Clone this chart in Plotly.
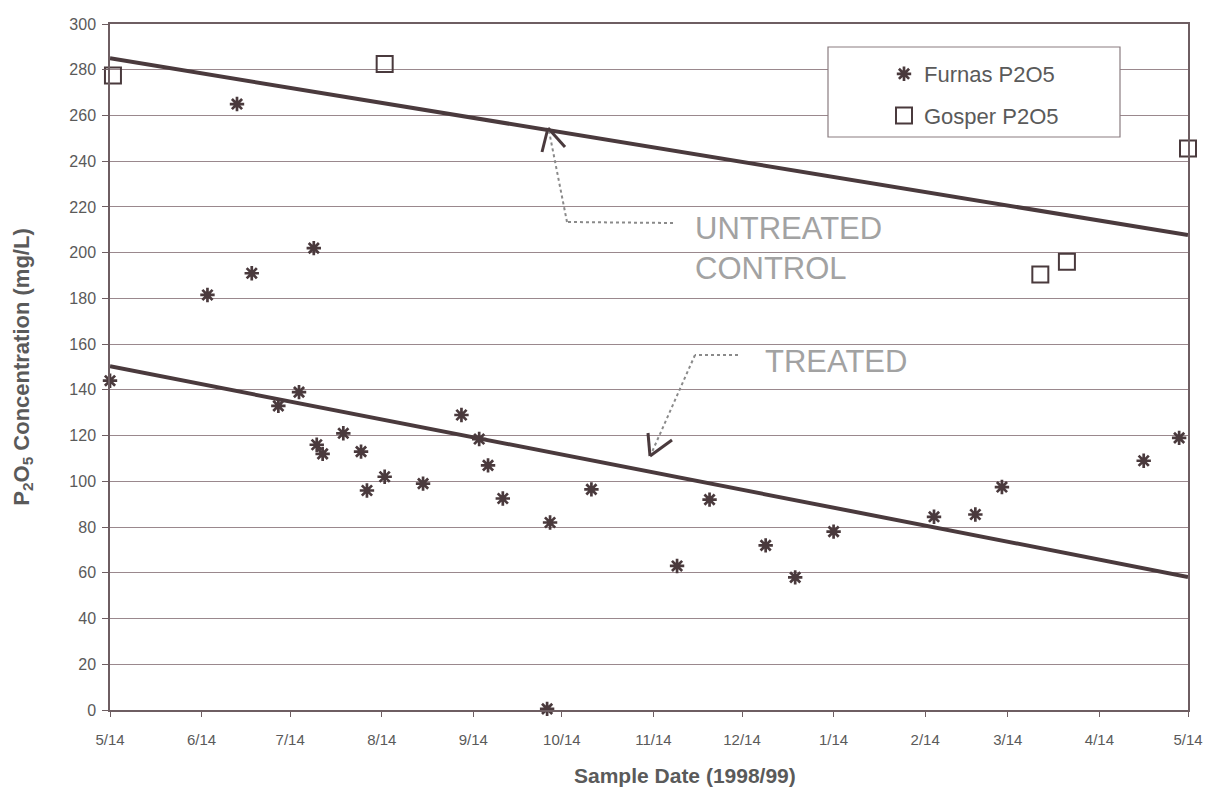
import plotly.graph_objects as go

# ---------------- data ----------------
furnas_dates = ["1998-05-14", "1998-06-16", "1998-06-26", "1998-07-01", "1998-07-10",
                "1998-07-17", "1998-07-22", "1998-07-23", "1998-07-25", "1998-08-01",
                "1998-08-07", "1998-08-09", "1998-08-15", "1998-08-28", "1998-09-10",
                "1998-09-16", "1998-09-19", "1998-09-24", "1998-10-09", "1998-10-10",
                "1998-10-24", "1998-11-22", "1998-12-03", "1998-12-22", "1999-01-01",
                "1999-01-14", "1999-02-17", "1999-03-03", "1999-03-12", "1999-04-29",
                "1999-05-11"]
furnas_p2o5 = [144, 181.5, 265, 191, 133,
               139, 202, 116, 112, 121,
               113, 96, 102, 99, 129,
               118.5, 107, 92.5, 0.5, 82,
               96.5, 63, 92, 72, 58,
               78, 84.5, 85.5, 97.5, 109,
               119]

gosper_dates = ["1998-05-15", "1998-08-15", "1999-03-25", "1999-04-03", "1999-05-14"]
gosper_p2o5 = [277.5, 282.5, 190.5, 196, 245.5]

trend_dates = ["1998-05-14", "1999-05-14"]
untreated_trend = [285, 207.7]
treated_trend = [150.3, 58.2]

tick_dates = ["1998-05-14", "1998-06-14", "1998-07-14", "1998-08-14", "1998-09-14",
              "1998-10-14", "1998-11-14", "1998-12-14", "1999-01-14", "1999-02-14",
              "1999-03-14", "1999-04-14", "1999-05-14"]
tick_labels = ["5/14", "6/14", "7/14", "8/14", "9/14", "10/14", "11/14", "12/14",
               "1/14", "2/14", "3/14", "4/14", "5/14"]

# ---------------- styling ----------------
FONT = "Liberation Sans, Arial, sans-serif"
DARK = "#4a3a3d"
GRID = "#9a888d"
AXIS = "#6e5e62"
TXT = "#5a5a5a"
GRAYTXT = "#a2a2a2"

# page offset from the browser's default 8px body margin
OFF = 8
W, H = 1211 - 2 * OFF, 788 - OFF
# plot area in page pixels
L, R, T, B = 110, 1188, 24, 710


def pxx(x):
    return (x - L) / (R - L)


def pxy(y):
    return (B - y) / (B - T)


fig = go.Figure()

fig.add_trace(go.Scatter(x=trend_dates, y=untreated_trend, mode="lines",
                         line=dict(color=DARK, width=4), showlegend=False, hoverinfo="skip"))
fig.add_trace(go.Scatter(x=trend_dates, y=treated_trend, mode="lines",
                         line=dict(color=DARK, width=4), showlegend=False, hoverinfo="skip"))

fig.add_trace(go.Scatter(x=furnas_dates, y=furnas_p2o5, mode="markers", name="Furnas P2O5",
                         legendgroup="a",
                         marker=dict(symbol="asterisk-open", size=12, color=DARK,
                                     line=dict(color=DARK, width=2.7)),
                         cliponaxis=False))
fig.add_trace(go.Scatter(x=gosper_dates, y=gosper_p2o5, mode="markers", name="Gosper P2O5",
                         legendgroup="b",
                         marker=dict(symbol="square-open", size=16, color=DARK,
                                     line=dict(color=DARK, width=2)),
                         cliponaxis=False))

shapes = []
# legend box
shapes.append(dict(type="rect", xref="paper", yref="paper",
                   x0=pxx(828), x1=pxx(1120), y0=pxy(137), y1=pxy(47),
                   fillcolor="white", line=dict(color="#8a7c80", width=1.2), layer="above"))

# untreated arrow (dotted shaft)
for (x0, y0, x1, y1) in [(673, 223, 567, 222), (567, 222, 549, 131)]:
    shapes.append(dict(type="line", xref="paper", yref="paper",
                       x0=pxx(x0), y0=pxy(y0), x1=pxx(x1), y1=pxy(y1),
                       line=dict(color="#8a8a8a", width=2, dash="dot"), layer="above"))
for (x0, y0, x1, y1) in [(548, 128, 542, 152), (548, 128, 565, 147)]:
    shapes.append(dict(type="line", xref="paper", yref="paper",
                       x0=pxx(x0), y0=pxy(y0), x1=pxx(x1), y1=pxy(y1),
                       line=dict(color=DARK, width=3), layer="above"))

# treated arrow
for (x0, y0, x1, y1) in [(738, 355, 695, 355), (695, 355, 652, 452)]:
    shapes.append(dict(type="line", xref="paper", yref="paper",
                       x0=pxx(x0), y0=pxy(y0), x1=pxx(x1), y1=pxy(y1),
                       line=dict(color="#8a8a8a", width=2, dash="dot"), layer="above"))
for (x0, y0, x1, y1) in [(650, 456, 648, 433), (650, 456, 672, 440)]:
    shapes.append(dict(type="line", xref="paper", yref="paper",
                       x0=pxx(x0), y0=pxy(y0), x1=pxx(x1), y1=pxy(y1),
                       line=dict(color=DARK, width=3), layer="above"))

annotations = [
    dict(xref="paper", yref="paper", x=pxx(693), y=pxy(249), xanchor="left", yanchor="middle",
         text="UNTREATED<br>CONTROL", align="left", showarrow=False,
         font=dict(family=FONT, size=31, color=GRAYTXT)),
    dict(xref="paper", yref="paper", x=pxx(763), y=pxy(361), xanchor="left", yanchor="middle",
         text="TREATED", align="left", showarrow=False,
         font=dict(family=FONT, size=31, color=GRAYTXT)),
    dict(xref="paper", yref="paper", x=pxx(685), y=pxy(775), xanchor="center", yanchor="middle",
         text="<b>Sample Date (1998/99)</b>", showarrow=False,
         font=dict(family=FONT, size=21, color=TXT)),
]

fig.update_layout(
    width=W, height=H, autosize=False,
    margin=dict(l=L - OFF, r=(W + OFF) - R, t=T - OFF, b=(H + OFF) - B, autoexpand=False),
    paper_bgcolor="white", plot_bgcolor="white",
    font=dict(family=FONT, size=15, color=TXT),
    shapes=shapes, annotations=annotations,
    legend=dict(x=pxx(884), y=pxy(53), xanchor="left", yanchor="top",
                bgcolor="rgba(0,0,0,0)", borderwidth=0,
                font=dict(family=FONT, size=22, color=TXT),
                traceorder="grouped", tracegroupgap=10, itemwidth=30),
    showlegend=True,
)

fig.update_xaxes(
    type="date", range=["1998-05-14", "1999-05-14"], automargin=False,
    tickmode="array", tickvals=tick_dates, ticktext=tick_labels,
    ticks="outside", ticklen=5, tickcolor=AXIS, tickwidth=1, ticklabelstandoff=10,
    showgrid=False, showline=True, linecolor=AXIS, linewidth=1.5, mirror=True,
    zeroline=False, tickfont=dict(family=FONT, size=15, color=TXT),
)
fig.update_yaxes(
    range=[0, 300], tickmode="linear", tick0=0, dtick=20, automargin=False,
    ticks="outside", ticklen=6, tickcolor=AXIS, tickwidth=1, ticklabelstandoff=3,
    showgrid=True, gridcolor=GRID, gridwidth=1.2,
    showline=True, linecolor=AXIS, linewidth=1.5, mirror=True,
    zeroline=False, tickfont=dict(family=FONT, size=16, color=TXT),
    title=dict(text="<b>P<sub>2</sub>O<sub>5</sub> Concentration (mg/L)</b>",
               font=dict(family=FONT, size=22, color=TXT), standoff=34),
)

fig.write_html("out.html", config={"displayModeBar": False})
